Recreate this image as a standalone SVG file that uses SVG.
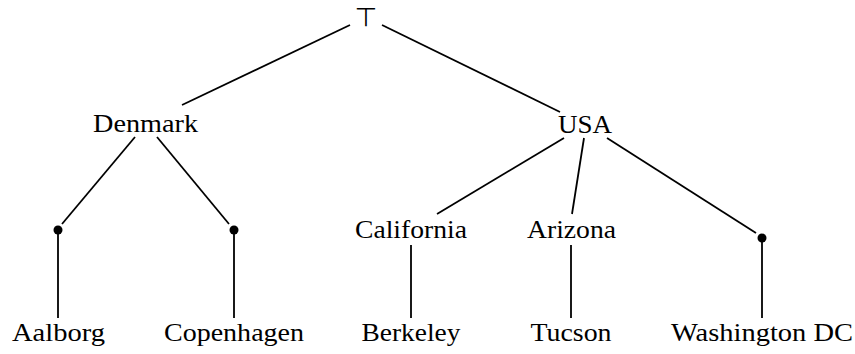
<svg xmlns="http://www.w3.org/2000/svg" width="855" height="354" viewBox="0 0 855 354">
<style>
.t{font-size:25px;fill:#000;text-anchor:middle}
.top{font-size:26px;fill:#000;text-anchor:middle}
.e line{stroke:#000;stroke-width:1.8;fill:none}
circle{fill:#000}
</style>
<rect width="855" height="354" fill="#fff"/>
<g class="e" id="edges">
<line x1="350" y1="25" x2="182" y2="105"/>
<line x1="382" y1="25" x2="560" y2="112"/>
<line x1="135" y1="137" x2="62" y2="224"/>
<line x1="157" y1="137" x2="229" y2="224"/>
<line x1="564" y1="138" x2="437" y2="214"/>
<line x1="584" y1="138" x2="572" y2="214"/>
<line x1="607" y1="138" x2="756" y2="233"/>
<line x1="58" y1="234" x2="58" y2="318"/>
<line x1="234" y1="234" x2="234" y2="318"/>
<line x1="411" y1="245" x2="411" y2="318"/>
<line x1="571" y1="245" x2="571" y2="318"/>
<line x1="762" y1="242" x2="762" y2="318"/>
</g>
<g font-family="Liberation Serif, DejaVu Serif, serif">
<g id="top"><text class="top" font-family="DejaVu Sans, sans-serif" x="366" y="26">⊤</text></g>
<g id="denmark"><text class="t" x="145.5" y="132" textLength="105" lengthAdjust="spacingAndGlyphs">Denmark</text></g>
<g id="usa"><text class="t" x="585" y="133" textLength="54" lengthAdjust="spacingAndGlyphs">USA</text></g>
<g id="dot1"><circle cx="58" cy="230" r="4.5"/></g>
<g id="dot2"><circle cx="234" cy="230" r="4.5"/></g>
<g id="california"><text class="t" x="411" y="238" textLength="112" lengthAdjust="spacingAndGlyphs">California</text></g>
<g id="arizona"><text class="t" x="571.5" y="238" textLength="89" lengthAdjust="spacingAndGlyphs">Arizona</text></g>
<g id="dot3"><circle cx="762" cy="238" r="4.5"/></g>
<g id="aalborg"><text class="t" x="58.5" y="341" textLength="93" lengthAdjust="spacingAndGlyphs">Aalborg</text></g>
<g id="copenhagen"><text class="t" x="234" y="341" textLength="140" lengthAdjust="spacingAndGlyphs">Copenhagen</text></g>
<g id="berkeley"><text class="t" x="411" y="341" textLength="99" lengthAdjust="spacingAndGlyphs">Berkeley</text></g>
<g id="tucson"><text class="t" x="571" y="341" textLength="81" lengthAdjust="spacingAndGlyphs">Tucson</text></g>
<g id="washington"><text class="t" x="762" y="341" textLength="182" lengthAdjust="spacingAndGlyphs">Washington DC</text></g>
</g>
</svg>
